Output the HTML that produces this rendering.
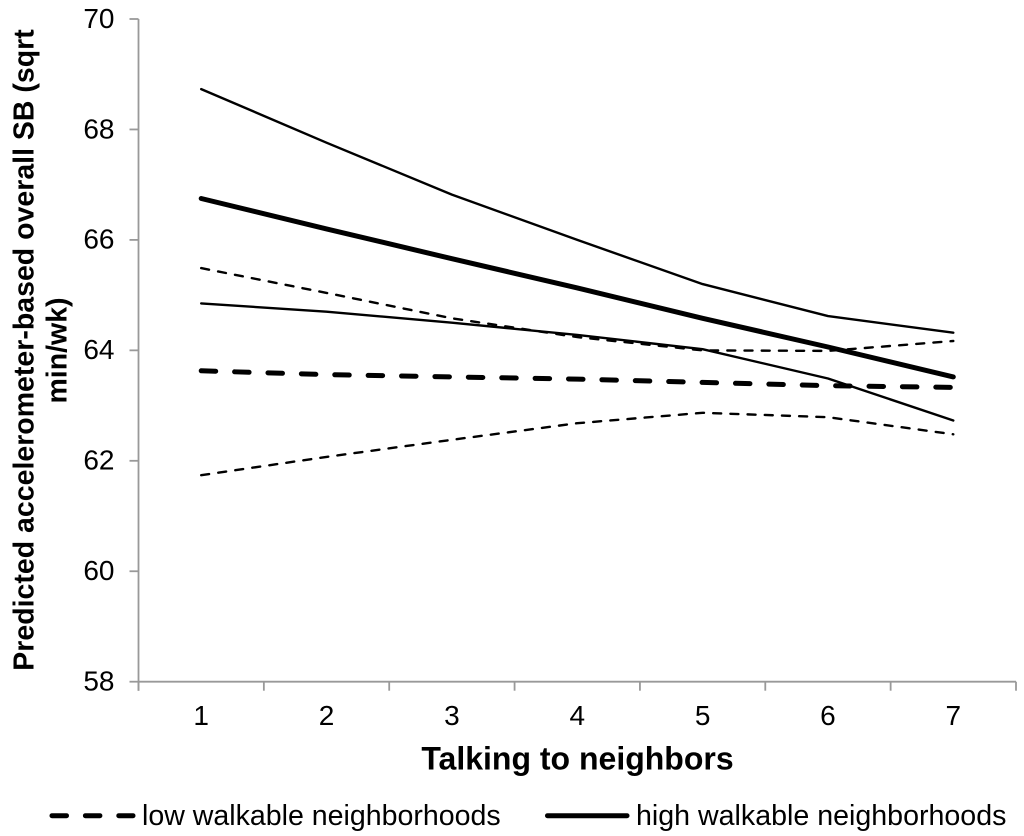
<!DOCTYPE html>
<html>
<head>
<meta charset="utf-8">
<style>
html,body{margin:0;padding:0;background:#fff;}
svg{display:block;}
text{font-family:"Liberation Sans",Arial,sans-serif;fill:#000;}
</style>
</head>
<body>
<svg id="chart" width="1024" height="836" viewBox="0 0 1024 836" xmlns="http://www.w3.org/2000/svg"></svg>
<script>
const categories = [1, 2, 3, 4, 5, 6, 7];
const yTickLabels = [58, 60, 62, 64, 66, 68, 70];
const lowMean = [63.63, 63.56, 63.52, 63.48, 63.42, 63.36, 63.33];
const lowUpper = [65.49, 65.04, 64.58, 64.24, 64.0, 63.99, 64.17];
const lowLower = [61.74, 62.07, 62.38, 62.68, 62.87, 62.79, 62.48];
const highMean = [66.75, 66.2, 65.66, 65.13, 64.58, 64.06, 63.52];
const highUpper = [68.73, 67.76, 66.82, 66.0, 65.2, 64.62, 64.32];
const highLower = [64.85, 64.7, 64.5, 64.28, 64.02, 63.49, 62.73];

const svg = document.getElementById('chart');
const NS = 'http://www.w3.org/2000/svg';
const plotLeft = 138.5, plotRight = 1016, plotTop = 19, plotBottom = 681.7;
const yMin = 58, yMax = 70;
const axisColor = '#999';
const xScale = v => plotLeft + (v - 0.5) * (plotRight - plotLeft) / categories.length;
const yScale = v => plotBottom - (v - yMin) * (plotBottom - plotTop) / (yMax - yMin);

function make(tag, attrs, parent) {
  const el = document.createElementNS(NS, tag);
  for (const k in attrs) el.setAttribute(k, attrs[k]);
  (parent || svg).appendChild(el);
  return el;
}

// axes
const yAxis = make('line', {x1: plotLeft, y1: plotTop, x2: plotLeft, y2: plotBottom + 9, stroke: axisColor, 'stroke-width': 1.8});


const xAxis = make('line', {x1: plotLeft, y1: plotBottom, x2: plotRight, y2: plotBottom, stroke: axisColor, 'stroke-width': 1.8});



yTickLabels.forEach(t => {
  const y = yScale(t);
  const tick = make('line', {x1: plotLeft - 9, y1: y, x2: plotLeft, y2: y, stroke: axisColor, 'stroke-width': 1.8});
  
  
  const label = make('text', {x: 114.5, y: y + 8.8, 'text-anchor': 'end', 'font-size': 28});
  
  
  label.textContent = t;
});

for (let i = 0; i <= categories.length; i++) {
  const x = xScale(i + 0.5);
  const tick = make('line', {x1: x, y1: plotBottom, x2: x, y2: plotBottom + 9, stroke: axisColor, 'stroke-width': 1.8});
  
  
}
categories.forEach(c => {
  const label = make('text', {x: xScale(c), y: 725, 'text-anchor': 'middle', 'font-size': 28});
  
  
  label.textContent = c;
});

function drawSeries(values, width, dash, name) {
  const pts = values.map((v, i) => xScale(categories[i]).toFixed(1) + ',' + yScale(v).toFixed(1)).join(' ');
  const attrs = {points: pts, fill: 'none', stroke: '#000', 'stroke-width': width, 'stroke-linejoin': 'round', 'stroke-linecap': 'round'};
  if (dash) attrs['stroke-dasharray'] = dash;
  const line = make('polyline', attrs);
  
  
}
drawSeries(lowUpper, 2.4, '8 9.2', 'low-walkable-upper-line');
drawSeries(lowLower, 2.4, '8 9.2', 'low-walkable-lower-line');
drawSeries(highUpper, 2.4, '', 'high-walkable-upper-line');
drawSeries(highLower, 2.4, '', 'high-walkable-lower-line');
drawSeries(lowMean, 5, '14.5 18.9', 'low-walkable-mean-line');
drawSeries(highMean, 5, '', 'high-walkable-mean-line');

// titles
const xTitle = make('text', {x: 577.5, y: 769.5, 'text-anchor': 'middle', 'font-size': 32, 'font-weight': 'bold'});


xTitle.textContent = 'Talking to neighbors';

const yTitle1 = make('text', {transform: 'translate(33.5,350) rotate(-90)', 'text-anchor': 'middle', 'font-size': 28.5, 'font-weight': 'bold'});


yTitle1.textContent = 'Predicted accelerometer-based overall SB (sqrt';
const yTitle2 = make('text', {transform: 'translate(66.5,350.5) rotate(-90)', 'text-anchor': 'middle', 'font-size': 28.5, 'font-weight': 'bold'});


yTitle2.textContent = 'min/wk)';

// legend
const legendLow = make('line', {x1: 52, y1: 815.7, x2: 133, y2: 815.7, stroke: '#000', 'stroke-width': 5, 'stroke-dasharray': '14.5 18.9', 'stroke-linecap': 'round'});


const legendLowText = make('text', {x: 142, y: 825, 'font-size': 28.55});


legendLowText.textContent = 'low walkable neighborhoods';
const legendHigh = make('line', {x1: 547.5, y1: 815.7, x2: 627, y2: 815.7, stroke: '#000', 'stroke-width': 5, 'stroke-linecap': 'round'});


const legendHighText = make('text', {x: 636, y: 825, 'font-size': 28.6});


legendHighText.textContent = 'high walkable neighborhoods';
</script>
</body>
</html>
